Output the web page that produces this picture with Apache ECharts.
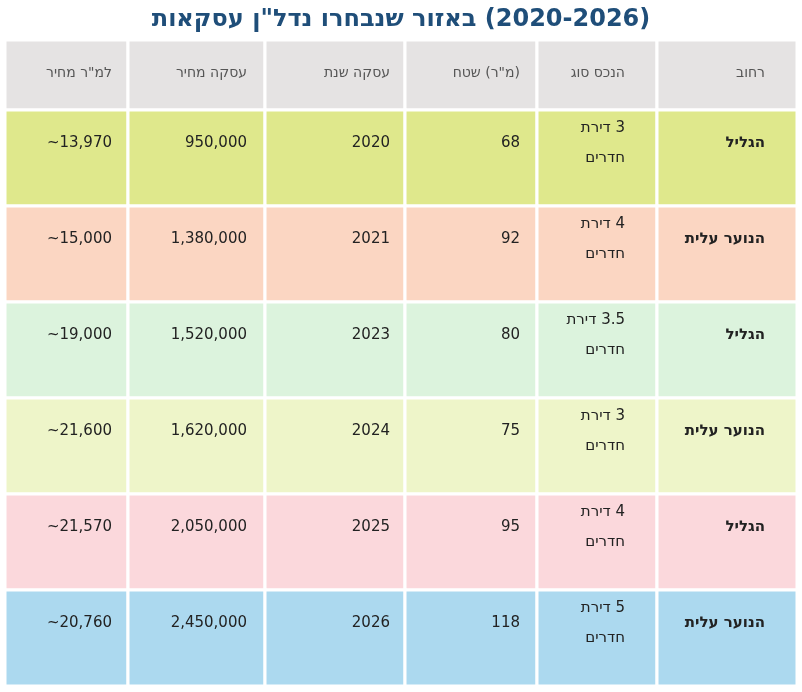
<!DOCTYPE html>
<html dir="rtl"><head><meta charset="utf-8">
<script src="https://cdn.jsdelivr.net/npm/echarts@6/dist/echarts.min.js"></script>
<style>html,body{margin:0;background:#fff}#main{width:802px;height:692px;direction:rtl}</style>
</head><body><div id="main" dir="rtl"></div>
<script>
// נתוני הטבלה (עמודות משמאל לימין כמו בתמונה)
var title = 'עסקאות נדל"ן שנבחרו באזור (2020-2026)';
var headers = ['מחיר למ"ר', 'מחיר עסקה', 'שנת עסקה', 'שטח (מ"ר)', 'סוג הנכס', 'רחוב'];
var streets = ['הגליל', 'עלית הנוער', 'הגליל', 'עלית הנוער', 'הגליל', 'עלית הנוער'];
var types = ['דירת 3\nחדרים', 'דירת 4\nחדרים', 'דירת 3.5\nחדרים', 'דירת 3\nחדרים', 'דירת 4\nחדרים', 'דירת 5\nחדרים'];
var areas = [68, 92, 80, 75, 95, 118];
var years = [2020, 2021, 2023, 2024, 2025, 2026];
var prices = [950000, 1380000, 1520000, 1620000, 2050000, 2450000];
var pricePerM = ['~13,970', '~15,000', '~19,000', '~21,600', '~21,570', '~20,760'];

var rowColors = ['#dfe88c', '#fbd6c2', '#dcf3dd', '#eef5c9', '#fbd8dc', '#acd9ef'];
var headColor = '#e5e3e3';
var colEdges = [0, 123, 260, 400, 532, 652, 792];
var colPad = [16, 18, 15, 17, 32, 32];
var headH = 70, rowH = 96;

// בתמונה המילים מוצגות בסדר שמאל-לימין, לכן הופכים את סדר המילים לתצוגה בלבד
function vis(s) {
  return String(s).split('\n').map(function (l) {
    if (l.charAt(0) === '~') l = l.slice(1) + '~';
    return l.split(' ').reverse().join(' ');
  }).join('\n');
}

var cells = [];
headers.forEach(function (h, c) { cells.push([c, -1, h]); });
for (var r = 0; r < streets.length; r++) {
  var vals = [pricePerM[r], prices[r].toLocaleString('en-US'), years[r], areas[r], types[r], streets[r]];
  vals.forEach(function (v, c) { cells.push([c, r, v]); });
}

var myChart = echarts.init(document.getElementById('main'));
myChart.setOption({
  title: {
    text: vis(title), left: 'center', top: 3,
    textStyle: { fontFamily: 'DejaVu Sans', fontSize: 24, fontWeight: 'bold', color: '#1f4e79' }
  },
  grid: { left: 5, right: 5, top: 40, bottom: 6 },
  xAxis: { type: 'value', min: 0, max: 792, show: false },
  yAxis: { type: 'value', min: 0, max: headH + rowH * 6, inverse: true, show: false },
  series: [{
    type: 'custom',
    data: cells,
    renderItem: function (params, api) {
      var c = api.value(0), r = api.value(1);
      var d = cells[params.dataIndex];
      var y0 = r < 0 ? 0 : headH + r * rowH, y1 = r < 0 ? headH : y0 + rowH;
      var p0 = api.coord([colEdges[c], y0]), p1 = api.coord([colEdges[c + 1], y1]);
      var isHead = r < 0;
      return {
        type: 'group',
        children: [{
          type: 'rect',
          shape: { x: p0[0], y: p0[1], width: p1[0] - p0[0], height: p1[1] - p0[1] },
          style: { fill: isHead ? headColor : rowColors[r], stroke: '#ffffff', lineWidth: 3 }
        }, {
          type: 'text',
          style: {
            x: p1[0] - colPad[c], y: p0[1] + 33,
            text: vis(d[2]), align: 'right', verticalAlign: 'middle',
            fontFamily: 'DejaVu Sans', fontSize: isHead ? 14 : 15, lineHeight: 30,
            fontWeight: (!isHead && c === 5) ? 'bold' : 'normal',
            fill: isHead ? '#555555' : '#222222'
          }
        }]
      };
    }
  }]
});
</script></body></html>
